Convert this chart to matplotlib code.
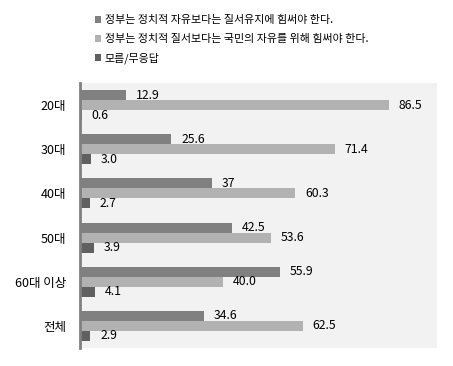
import matplotlib.pyplot as plt
import numpy as np

plt.rcParams["font.family"] = ["Noto Sans CJK KR", "DejaVu Sans"]

categories = ["20대", "30대", "40대", "50대", "60대 이상", "전체"]
series_names = [
    "정부는 정치적 자유보다는 질서유지에 힘써야 한다.",
    "정부는 정치적 질서보다는 국민의 자유를 위해 힘써야 한다.",
    "모름/무응답",
]
order_first = [12.9, 25.6, 37, 42.5, 55.9, 34.6]
freedom_first = [86.5, 71.4, 60.3, 53.6, 40.0, 62.5]
no_answer = [0.6, 3.0, 2.7, 3.9, 4.1, 2.9]
value_labels = [
    ["12.9", "25.6", "37", "42.5", "55.9", "34.6"],
    ["86.5", "71.4", "60.3", "53.6", "40.0", "62.5"],
    ["0.6", "3.0", "2.7", "3.9", "4.1", "2.9"],
]
colors = ["#808080", "#b2b2b2", "#606060"]

fig = plt.figure(figsize=(4.53, 3.66), dpi=100)
ax = fig.add_axes([80 / 453, 1 - 348 / 366, 357 / 453, 265 / 366])
ax.set_facecolor("#f2f2f2")

y = np.arange(len(categories))
height = 0.227
handles = []
for i, values in enumerate([order_first, freedom_first, no_answer]):
    bars = ax.barh(y + (i - 1) * height, values, height=height, color=colors[i],
                   label=series_names[i])
    ax.bar_label(bars, labels=value_labels[i], padding=7, fontsize=8.8, color="#000000")
    handles.append(bars)

ax.set_xlim(0, 100)
ax.set_ylim(len(categories) - 0.5, -0.5)
ax.set_yticks(y)
ax.set_yticklabels(categories, fontsize=9)
ax.tick_params(axis="y", length=0, pad=10)
ax.set_xticks([])
for side in ["top", "right", "bottom"]:
    ax.spines[side].set_visible(False)
ax.spines["left"].set_color("#808080")
ax.spines["left"].set_linewidth(2)

fig.legend(handles=handles, loc="upper left", bbox_to_anchor=(91 / 453, 1 - 11 / 366),
           frameon=False, fontsize=7.9, handlelength=0.55, handleheight=0.55,
           handletextpad=0.3, labelspacing=0.78, borderaxespad=0)

fig.savefig("out.png", dpi=100)
